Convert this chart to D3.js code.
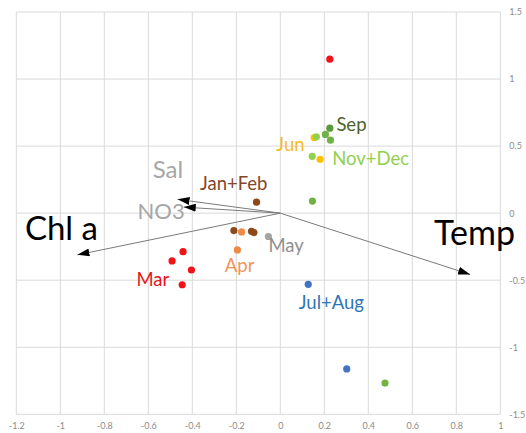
<!DOCTYPE html>
<html>
<head>
<meta charset="utf-8">
<script src="https://cdn.jsdelivr.net/npm/d3@7"></script>
<style>
  body { margin: 0; background: #fff; }
  text { font-family: Lato, "Open Sans", sans-serif; }
</style>
</head>
<body>
<div id="chart"></div>
<script>
// axis ticks
var xTicks = [-1.2, -1, -0.8, -0.6, -0.4, -0.2, 0, 0.2, 0.4, 0.6, 0.8, 1];
var yTicks = [-1.5, -1, -0.5, 0, 0.5, 1, 1.5];

// sample scores
var pointX = [-0.442, -0.492, -0.404, -0.446, 0.225,
              -0.108, -0.211, -0.131, -0.12,
              -0.176, -0.195,
              -0.054,
              0.154, 0.181,
              0.225,
              0.205, 0.228, 0.146, 0.476,
              0.164, 0.145,
              0.127, 0.302];
var pointY = [-0.287, -0.356, -0.424, -0.534, 1.148,
              0.082, -0.13, -0.135, -0.145,
              -0.14, -0.274,
              -0.174,
              0.564, 0.402,
              0.634,
              0.587, 0.544, 0.09, -1.267,
              0.569, 0.424,
              -0.531, -1.162];
var pointGroup = ["Mar", "Mar", "Mar", "Mar", "Mar",
                  "Jan+Feb", "Jan+Feb", "Jan+Feb", "Jan+Feb",
                  "Apr", "Apr",
                  "May",
                  "Jun", "Jun",
                  "Sep",
                  "green", "green", "green", "green",
                  "Nov+Dec", "Nov+Dec",
                  "Jul+Aug", "Jul+Aug"];

// environmental vectors
var vecNames = ["Chl a", "Temp", "Sal", "NO3"];
var vecX = [-0.922, 0.863, -0.467, -0.439];
var vecY = [-0.311, -0.457, 0.103, 0.045];

// group labels and where they sit (data units, left/baseline)
var groupNames = ["Jan+Feb", "Mar", "Apr", "May", "Jun", "Jul+Aug", "Sep", "Nov+Dec"];
var groupLabelX = [-0.365, -0.654, -0.252, -0.054, -0.018, 0.084, 0.255, 0.236];
var groupLabelY = [0.176, -0.543, -0.439, -0.29, 0.463, -0.712, 0.615, 0.359];
var vecLabelX = [-1.161, 0.699, -0.58, -0.649];
var vecLabelY = [-0.198, -0.24, 0.262, -0.044];

var dotColor = {"Mar": "#f01418", "Jan+Feb": "#8c4a1c", "Apr": "#ee8a45", "May": "#a5a5a5",
  "Jun": "#ffc000", "Sep": "#5b9a3c", "green": "#70b244", "Nov+Dec": "#92d050", "Jul+Aug": "#4472c4"};
var labelColor = {"Mar": "#e8141a", "Jan+Feb": "#84462a", "Apr": "#f0955a", "May": "#8f8f8f",
  "Jun": "#f5bd1f", "Sep": "#4f6228", "Nov+Dec": "#92d050", "Jul+Aug": "#2e75b6"};
var vecLabelColor = ["#000", "#000", "#a6a6a6", "#a6a6a6"];
var vecLabelSize = [33, 34, 24, 22];

var svgWidth = 526;
var svgHeight = 433;
var margin = {top: 12, right: 25.7, bottom: 18.7, left: 16.3};
var width = svgWidth - margin.left - margin.right;
var height = svgHeight - margin.top - margin.bottom;

var svg = d3.select("#chart")
  .append("svg")
  .attr("width", svgWidth)
  .attr("height", svgHeight);

var chartGroup = svg.append("g")
  .attr("transform", `translate(${margin.left}, ${margin.top})`);

var xScale = d3.scaleLinear().domain([-1.2, 1]).range([0, width]);
var yScale = d3.scaleLinear().domain([-1.5, 1.5]).range([height, 0]);

// gridlines
chartGroup.append("g")
  .selectAll("line")
  .data(xTicks)
  .enter()
  .append("line")
  .attr("x1", d => xScale(d)).attr("x2", d => xScale(d))
  .attr("y1", 0).attr("y2", height)
  .attr("stroke", "#d9d9d9")
  .attr("stroke-width", 1);

chartGroup.append("g")
  .selectAll("line")
  .data(yTicks)
  .enter()
  .append("line")
  .attr("x1", 0).attr("x2", width)
  .attr("y1", d => yScale(d)).attr("y2", d => yScale(d))
  .attr("stroke", "#d9d9d9")
  .attr("stroke-width", 1);

// axes, only the labels are shown
var bottomAxis = d3.axisBottom(xScale).tickValues(xTicks).tickSize(0).tickPadding(8);
var rightAxis = d3.axisRight(yScale).tickValues(yTicks).tickSize(0).tickPadding(9);

var xAxis = chartGroup.append("g")
  .attr("transform", `translate(0, ${height})`)
  .call(bottomAxis);
var yAxis = chartGroup.append("g")
  .attr("transform", `translate(${width}, 0)`)
  .call(rightAxis);

[xAxis, yAxis].forEach(function(ax) {
  ax.select(".domain").remove();
  ax.selectAll("text")
    .attr("fill", "#8c8c8c")
    .style("font-size", "9px")
    .style("font-family", "Lato, sans-serif")
    .text(d => String(d));
});

// arrowhead
svg.append("defs").append("marker")
  .attr("id", "head")
  .attr("viewBox", "0 0 12 8")
  .attr("refX", 12)
  .attr("refY", 4)
  .attr("markerWidth", 12)
  .attr("markerHeight", 8)
  .attr("markerUnits", "userSpaceOnUse")
  .attr("orient", "auto")
  .append("path")
  .attr("d", "M0,0 L12,4 L0,8 Z")
  .attr("fill", "#000");

// vectors
chartGroup.selectAll(".vec")
  .data(vecNames)
  .enter()
  .append("line")
  .attr("class", "vec")
  .attr("x1", xScale(0))
  .attr("y1", yScale(0))
  .attr("x2", (d, i) => xScale(vecX[i]))
  .attr("y2", (d, i) => yScale(vecY[i]))
  .attr("stroke", "#7a7a7a")
  .attr("stroke-width", 1)
  .attr("marker-end", "url(#head)");

// points
chartGroup.selectAll("circle")
  .data(pointX)
  .enter()
  .append("circle")
  .attr("cx", d => xScale(d))
  .attr("cy", (d, i) => yScale(pointY[i]))
  .attr("r", 3.6)
  .attr("fill", (d, i) => dotColor[pointGroup[i]]);

// group labels
chartGroup.selectAll(".glabel")
  .data(groupNames)
  .enter()
  .append("text")
  .attr("class", "glabel")
  .attr("x", (d, i) => xScale(groupLabelX[i]))
  .attr("y", (d, i) => yScale(groupLabelY[i]))
  .attr("fill", d => labelColor[d])
  .style("font-size", "18.5px")
  .text(d => d);

// vector labels
chartGroup.selectAll(".vlabel")
  .data(vecNames)
  .enter()
  .append("text")
  .attr("class", "vlabel")
  .attr("x", (d, i) => xScale(vecLabelX[i]))
  .attr("y", (d, i) => yScale(vecLabelY[i]))
  .attr("fill", (d, i) => vecLabelColor[i])
  .style("font-size", (d, i) => vecLabelSize[i] + "px")
  .text(d => d);
</script>
</body>
</html>
